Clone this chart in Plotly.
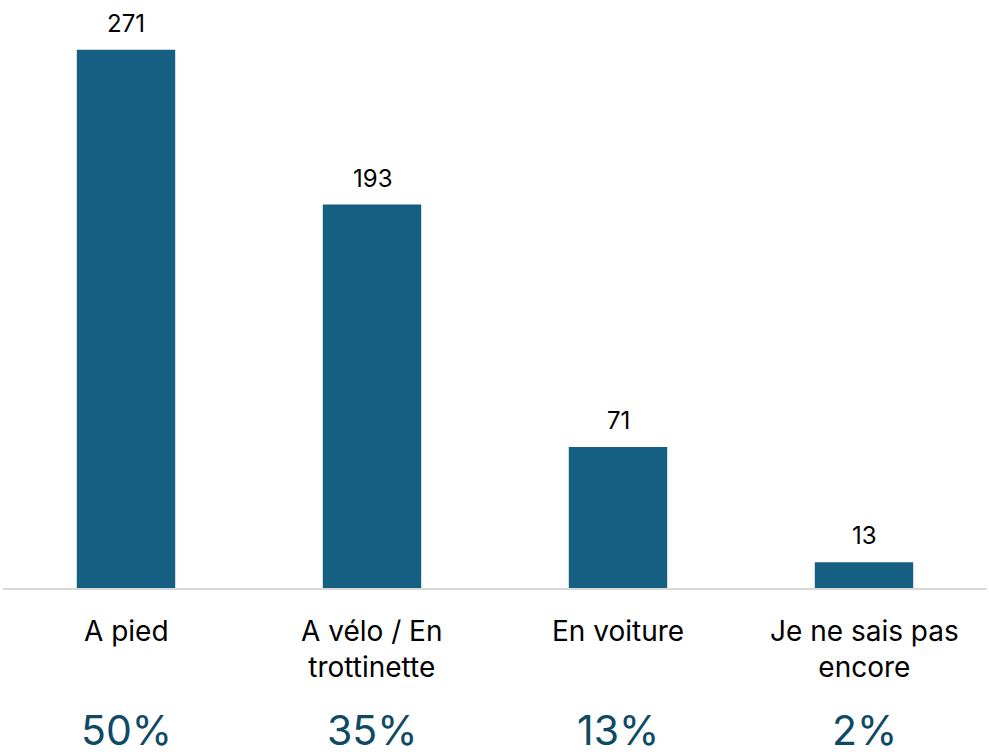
import plotly.graph_objects as go

categories = ["A pied", "A vélo / En<br>trottinette", "En voiture", "Je ne sais pas<br>encore"]
counts = [271, 193, 71, 13]
percents = ["50%", "35%", "13%", "2%"]

BAR = "#156082"
PCT = "#0e4a66"
FONT = "Inter, Open Sans, Liberation Sans, Arial, sans-serif"

fig = go.Figure(go.Bar(x=categories, y=counts, marker=dict(color=BAR, line=dict(width=0)),
                       hoverinfo="skip"))

annotations = []
for c, v, p in zip(categories, counts, percents):
    annotations.append(dict(x=c, y=v, xref="x", yref="y", text=str(v), showarrow=False,
                            yanchor="bottom", yshift=10,
                            font=dict(size=24, color="#000000", family=FONT)))
    annotations.append(dict(x=c, y=0, xref="x", yref="paper", text=c, showarrow=False,
                            yanchor="top", yshift=-24,
                            font=dict(size=28, color="#000000", family=FONT)))
    annotations.append(dict(x=c, y=0, xref="x", yref="paper", text=p, showarrow=False,
                            yanchor="middle", yshift=-142,
                            font=dict(size=41, color=PCT, family=FONT)))

fig.update_layout(
    width=989, height=756,
    margin=dict(l=3, r=2, t=0, b=168),
    plot_bgcolor="white", paper_bgcolor="white",
    bargap=0.6, showlegend=False,
    xaxis=dict(showticklabels=False, ticks="", showgrid=False, showline=True,
               linecolor="#d9d9d9", linewidth=2, zeroline=False, fixedrange=True),
    yaxis=dict(range=[0, 296], visible=False, showgrid=False, zeroline=False, fixedrange=True),
    annotations=annotations,
)

fig.write_html("out.html", config={"displayModeBar": False},
               post_script="document.body.style.margin='0';document.body.style.overflow='hidden';")
